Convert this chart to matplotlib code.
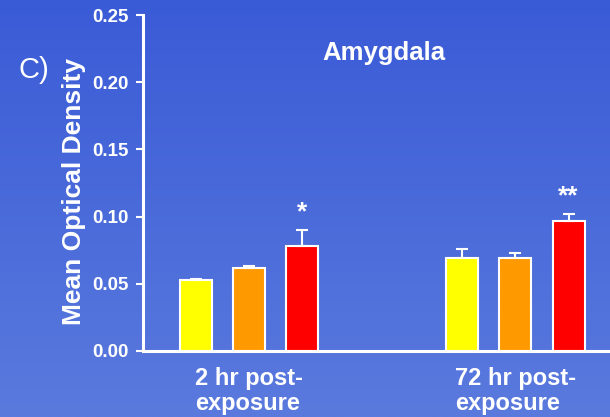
import numpy as np
import matplotlib.pyplot as plt

plt.rcParams['font.family'] = ['Liberation Sans', 'DejaVu Sans']

groups = ['2 hr post-\nexposure', '72 hr post-\nexposure']
colors = ['#ffff00', '#ff9900', '#ff0000']
means = [
    [0.053, 0.069],   # yellow
    [0.062, 0.069],   # orange
    [0.078, 0.097],   # red
]
errors = [
    [0.0005, 0.007],
    [0.0015, 0.004],
    [0.012, 0.005],
]
stars = ['*', '**']

fig = plt.figure(figsize=(6.1, 4.17), dpi=100)

# blue gradient background
bg = fig.add_axes([0, 0, 1, 1], zorder=0)
top = np.array([0x3a, 0x5b, 0xd6]) / 255
bot = np.array([0x5a, 0x7a, 0xde]) / 255
t = np.linspace(0, 1, 256)[:, None]
grad = top * (1 - t)[:, :, None] + bot * t[:, :, None]
bg.imshow(grad, aspect='auto', extent=[0, 1, 0, 1])
bg.axis('off')

ax = fig.add_axes([0.2344, 0.1583, 0.7656, 0.8057], zorder=1)
ax.patch.set_alpha(0)

x = np.arange(len(groups))
off = 0.2
w = 0.12
for i in range(3):
    ax.bar(x + (i - 1) * off, means[i], w, color=colors[i],
           edgecolor='white', linewidth=1.5, zorder=2)
    ax.errorbar(x + (i - 1) * off, means[i], yerr=[np.zeros(2), errors[i]],
                fmt='none', ecolor='white', elinewidth=1.5, capsize=4,
                capthick=1.5, zorder=3)

for g in range(2):
    top_val = means[2][g] + errors[2][g]
    ax.text(x[g] + off, top_val + 0.0045, stars[g], color='white', ha='center',
            va='bottom', fontsize=19, fontweight='bold')

ax.set_xlim(-0.398, 1.355)
ax.set_ylim(0, 0.25)
ax.set_yticks(np.arange(0, 0.26, 0.05))
ax.set_yticklabels(['%.2f' % v for v in np.arange(0, 0.26, 0.05)])
ax.set_xticks([])

for s in ['top', 'right']:
    ax.spines[s].set_visible(False)
for s in ['left', 'bottom']:
    ax.spines[s].set_color('white')
    ax.spines[s].set_linewidth(2.2)

ax.tick_params(axis='y', colors='white', length=5, width=1.5, labelsize=13.5,
               pad=5)
for lab in ax.get_yticklabels():
    lab.set_fontweight('bold')

ax.set_ylabel('Mean Optical Density', color='white', fontsize=19,
              fontweight='bold')
ax.yaxis.set_label_coords(-0.121, 0.475)

for g in range(2):
    ax.text(x[g], -0.012, groups[g], color='white', ha='center', va='top',
            fontsize=17, fontweight='bold', multialignment='left',
            transform=ax.transData, clip_on=False, linespacing=1.12)

fig.text(0.629, 0.873, 'Amygdala', color='white', ha='center', va='center',
         fontsize=18.5, fontweight='bold')
fig.text(0.056, 0.832, 'C)', color='white', ha='center', va='center',
         fontsize=21)

fig.savefig('out.png', dpi=100)
